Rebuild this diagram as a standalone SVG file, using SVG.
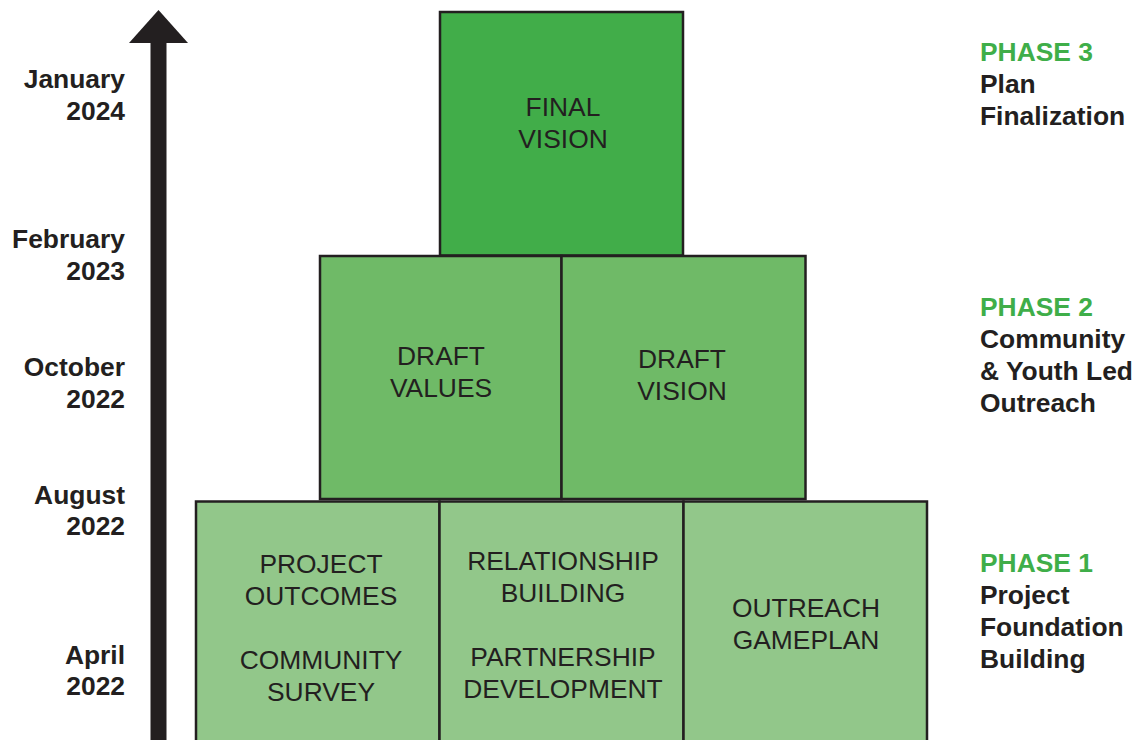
<svg xmlns="http://www.w3.org/2000/svg" width="1137" height="740" viewBox="0 0 1137 740">
<style>
.box{stroke:#231f20;stroke-width:2.5}
.p3{fill:#41ad49}
.p2{fill:#6fba67}
.p1{fill:#92c78a}
.bt{font-family:"Liberation Sans",Arial,sans-serif;font-size:26.4px;fill:#231f20;text-anchor:middle}
.date{font-family:"Liberation Sans",Arial,sans-serif;font-size:26.4px;font-weight:bold;fill:#231f20;text-anchor:end}
.ph{font-family:"Liberation Sans",Arial,sans-serif;font-size:26.4px;font-weight:bold;fill:#231f20}
.phg{fill:#3fae49}
</style>
<rect width="1137" height="740" fill="#ffffff"/>
<g id="axis">
<rect x="150.5" y="42" width="16" height="700" fill="#231f20"/>
<polygon points="158.5,10 188,43 129,43" fill="#231f20"/>
</g>
<g id="dates">
<text class="date" x="125" y="88">January</text><text class="date" x="125" y="120">2024</text>
<text class="date" x="125" y="248">February</text><text class="date" x="125" y="280">2023</text>
<text class="date" x="125" y="376">October</text><text class="date" x="125" y="408">2022</text>
<text class="date" x="125" y="504">August</text><text class="date" x="125" y="535">2022</text>
<text class="date" x="125" y="664">April</text><text class="date" x="125" y="695">2022</text>
</g>
<g id="final-vision">
<rect class="box p3" x="440" y="12" width="243" height="243.5"/>
<text class="bt" x="563" y="116">FINAL</text><text class="bt" x="563" y="148">VISION</text>
</g>
<g id="draft-values">
<rect class="box p2" x="320" y="256" width="241.5" height="243"/>
<text class="bt" x="441" y="365">DRAFT</text><text class="bt" x="441" y="397">VALUES</text>
</g>
<g id="draft-vision">
<rect class="box p2" x="561.5" y="256" width="244" height="243"/>
<text class="bt" x="682" y="368">DRAFT</text><text class="bt" x="682" y="400">VISION</text>
</g>
<g id="project-outcomes">
<rect class="box p1" x="196" y="501.5" width="243.5" height="250"/>
<text class="bt" x="321" y="573">PROJECT</text><text class="bt" x="321" y="605">OUTCOMES</text>
<text class="bt" x="321" y="669">COMMUNITY</text><text class="bt" x="321" y="701">SURVEY</text>
</g>
<g id="relationship-building">
<rect class="box p1" x="439.5" y="501.5" width="244" height="250"/>
<text class="bt" x="563" y="570">RELATIONSHIP</text><text class="bt" x="563" y="602">BUILDING</text>
<text class="bt" x="563" y="666">PARTNERSHIP</text><text class="bt" x="563" y="698">DEVELOPMENT</text>
</g>
<g id="outreach-gameplan">
<rect class="box p1" x="683.5" y="501.5" width="243.5" height="250"/>
<text class="bt" x="806" y="617">OUTREACH</text><text class="bt" x="806" y="649">GAMEPLAN</text>
</g>
<g id="phases">
<text class="ph phg" x="980" y="61">PHASE 3</text>
<text class="ph" x="980" y="93">Plan</text>
<text class="ph" x="980" y="125">Finalization</text>
<text class="ph phg" x="980" y="316">PHASE 2</text>
<text class="ph" x="980" y="348">Community</text>
<text class="ph" x="980" y="380">&amp; Youth Led</text>
<text class="ph" x="980" y="412">Outreach</text>
<text class="ph phg" x="980" y="572">PHASE 1</text>
<text class="ph" x="980" y="604">Project</text>
<text class="ph" x="980" y="636">Foundation</text>
<text class="ph" x="980" y="668">Building</text>
</g>
<g id="connectors"></g>
</svg>
